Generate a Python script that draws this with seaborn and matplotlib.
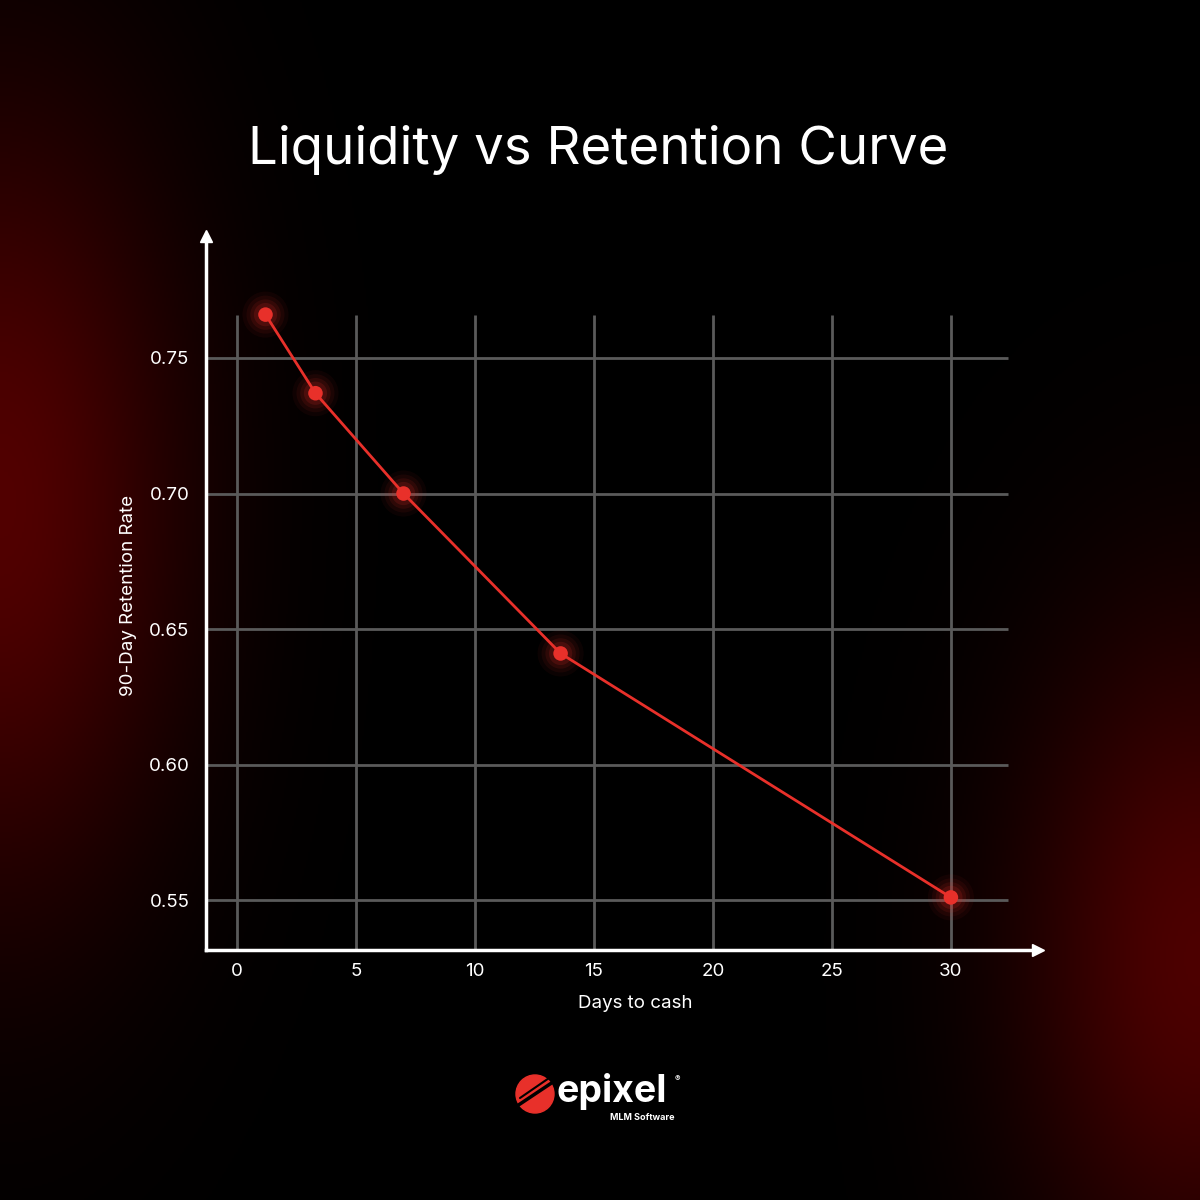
import numpy as np
import pandas as pd
import matplotlib.pyplot as plt
import seaborn as sns
from matplotlib.patches import Circle

# -----------------------------
# Data
# -----------------------------
days_to_cash = [1.2, 3.3, 7.0, 13.6, 30.0]
retention_90d = [0.766, 0.737, 0.700, 0.641, 0.551]
x_ticks = [0, 5, 10, 15, 20, 25, 30]
y_ticks = [0.55, 0.60, 0.65, 0.70, 0.75]

df = pd.DataFrame({"days": days_to_cash, "retention": retention_90d})

RED = "#e8302a"
GRID = "#5a5a5a"

sns.set_style("dark")
plt.rcParams["font.family"] = ["Inter", "DejaVu Sans"]

fig = plt.figure(figsize=(12, 12), dpi=100)
fig.patch.set_facecolor("black")

# background: black with red glow on the left and lower right edges
bg = fig.add_axes([0, 0, 1, 1])
bg.set_axis_off()
n = 600
yy, xx = np.mgrid[0:1:n * 1j, 0:1:n * 1j]
left = np.exp(-(((xx - 0.0) / 0.15) ** 2 + ((yy - 0.42) / 0.33) ** 2))
right = np.exp(-(((xx - 1.0) / 0.15) ** 2 + ((yy - 0.80) / 0.28) ** 2))
glow = np.clip(0.32 * left + 0.30 * right, 0, 1)
img = np.zeros((n, n, 3))
img[..., 0] = glow
bg.imshow(img, extent=[0, 1, 0, 1], aspect="auto", origin="upper")
bg.set_xlim(0, 1)
bg.set_ylim(0, 1)

# main axes
ax_l, ax_r, ax_t, ax_b = 206, 1038, 236, 950
ax = fig.add_axes([ax_l / 1200, 1 - ax_b / 1200, (ax_r - ax_l) / 1200, (ax_b - ax_t) / 1200])
ax.set_facecolor("none")
ax.set_xlim(-1.3, 33.66)
ax.set_ylim(0.5316, 0.795)

# grid (limited extent as in the reference)
ax.vlines(x_ticks, 0.5316, 0.766, color=GRID, lw=2, zorder=1)
ax.hlines(y_ticks, -1.3, 32.4, color=GRID, lw=2, zorder=1)

# glow around points
for s, a in [(1100, 0.05), (750, 0.07), (480, 0.10), (280, 0.15)]:
    sns.scatterplot(data=df, x="days", y="retention", s=s, color=RED, alpha=a,
                    edgecolor="none", ax=ax, zorder=2, legend=False)

sns.lineplot(data=df, x="days", y="retention", color=RED, lw=2, ax=ax, zorder=3)
sns.scatterplot(data=df, x="days", y="retention", s=110, color=RED,
                edgecolor="none", ax=ax, zorder=4, legend=False)

# spines with arrowheads
for side in ["top", "right"]:
    ax.spines[side].set_visible(False)
for side in ["left", "bottom"]:
    ax.spines[side].set_color("white")
    ax.spines[side].set_linewidth(2.5)
ax.plot(1, 0, ">", color="white", ms=9, transform=ax.transAxes, clip_on=False)
ax.plot(0, 1, "^", color="white", ms=9, transform=ax.transAxes, clip_on=False)

ax.set_xticks(x_ticks)
ax.set_yticks(y_ticks)
ax.set_yticklabels([f"{v:.2f}" for v in y_ticks])
ax.tick_params(axis="both", length=0, colors="white", labelsize=13.5)
ax.tick_params(axis="x", pad=9)
ax.tick_params(axis="y", pad=12)
ax.grid(False)

w, h = ax_r - ax_l, ax_b - ax_t
ax.set_xlabel("Days to cash", color="white", fontsize=13.5)
ax.set_ylabel("90-Day Retention Rate", color="white", fontsize=13.5)
ax.xaxis.set_label_coords((635 - ax_l) / w, -(995 - ax_b) / h)
ax.yaxis.set_label_coords(-(ax_l - 137) / w, (ax_b - 595) / h)

# title
fig.text(0.4985, 1 - 150 / 1200, "Liquidity vs Retention Curve", color="white",
         fontsize=38, ha="center", va="center")

# logo
logo = fig.add_axes([0, 0, 1, 1], zorder=5)
logo.set_axis_off()
logo.set_xlim(0, 1200)
logo.set_ylim(1200, 0)
logo.add_patch(Circle((535, 1094), 19, color=RED))
logo.plot([517, 556], [1106, 1080], color="black", lw=2.5)
logo.plot([520, 552], [1098, 1076], color="black", lw=1.5)
logo.text(557, 1092, "epixel", color="white", fontsize=27, fontweight="bold",
          ha="left", va="center")
logo.text(675, 1079, "®", color="white", fontsize=6, ha="left", va="center")
logo.text(675, 1117, "MLM Software", color="white", fontsize=6.5, fontweight="bold",
          ha="right", va="center")

fig.savefig("out.png", dpi=100, facecolor="black")
